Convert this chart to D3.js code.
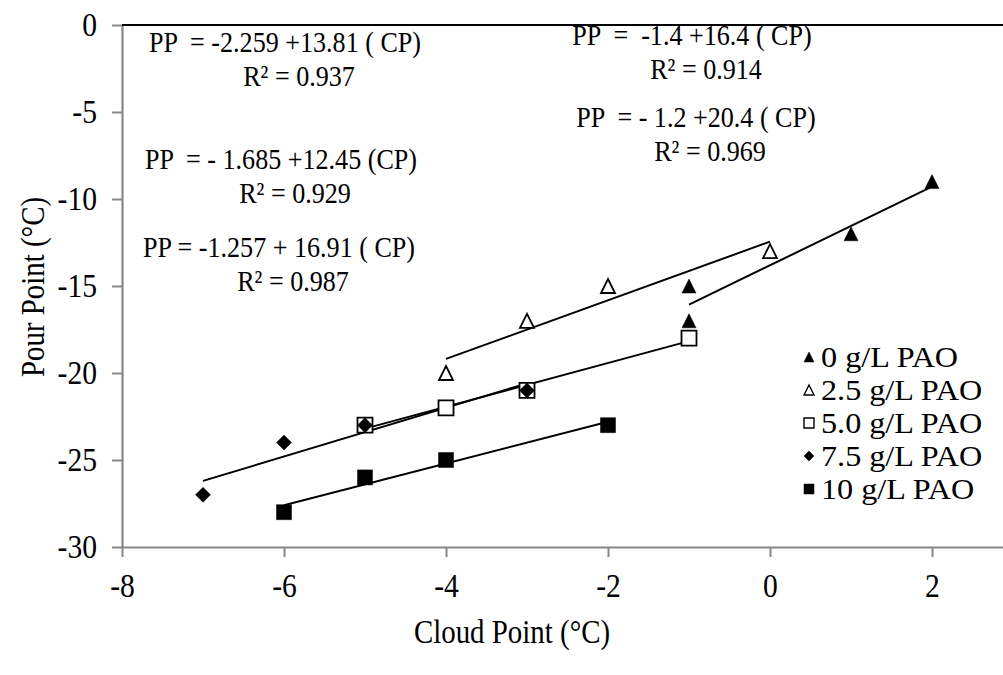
<!DOCTYPE html>
<html>
<head>
<meta charset="utf-8">
<script src="https://cdn.jsdelivr.net/npm/d3@7"></script>
<style>
  body { margin: 0; background: #fff; }
  text { font-family: "Liberation Serif", "Times New Roman", serif; fill: #000; white-space: pre; }
</style>
</head>
<body>
<svg id="chart" width="1003" height="675"></svg>
<script>
// Cloud point (CP) vs pour point (PP) for each PAO dose
const seriesNames = ["0 g/L PAO", "2.5 g/L PAO", "5.0 g/L PAO", "7.5 g/L PAO", "10 g/L PAO"];
const cp0  = [-1, -1, 1, 2];
const pp0  = [-17, -15, -12, -9];
const cp25 = [-4, -3, -2, 0];
const pp25 = [-20, -17, -15, -13];
const cp50 = [-5, -4, -3, -1];
const pp50 = [-23, -22, -21, -18];
const cp75 = [-7, -6, -5, -3];
const pp75 = [-27, -24, -23, -21];
const cp10 = [-6, -5, -4, -2];
const pp10 = [-28, -26, -25, -23];

// Linear fits PP = intercept + slope * CP
const fitSlopes     = [2.259, 1.685, 1.257, 1.4, 1.2];
const fitIntercepts = [-13.81, -12.45, -16.91, -16.4, -20.4];

// Equation annotations as printed
const eqLines = [
  ["PP  = -2.259 +13.81 ( CP)", "R² = 0.937"],
  ["PP  = - 1.685 +12.45 (CP)", "R² = 0.929"],
  ["PP = -1.257 + 16.91 ( CP)", "R² = 0.987"],
  ["PP  =  -1.4 +16.4 ( CP)", "R² = 0.914"],
  ["PP  = - 1.2 +20.4 ( CP)", "R² = 0.969"]
];

const xTicks = [-8, -6, -4, -2, 0, 2];
const yTicks = [0, -5, -10, -15, -20, -25, -30];

const cpData = [cp0, cp25, cp50, cp75, cp10];
const ppData = [pp0, pp25, pp50, pp75, pp10];

const svg = d3.select("#chart");
const x = d3.scaleLinear().domain([-8, 3]).range([122, 1013]);
const y = d3.scaleLinear().domain([-30, 0]).range([547, 25]);

const axisColor = "#878787";
const fmt = d => String(d); // plain hyphen-minus labels
const FS = 34;              // serif text size; glyphs are drawn slightly condensed

// Axes
const gx = svg.append("g").attr("transform", `translate(0,${y(-30)})`)
  .call(d3.axisBottom(x).tickValues(xTicks).tickFormat(fmt).tickSize(10).tickSizeOuter(0));
gx.select(".domain").attr("stroke", axisColor).attr("stroke-width", 2.2);
gx.selectAll(".tick line").attr("stroke", axisColor).attr("stroke-width", 2);
gx.selectAll(".tick text")
  .attr("y", null).attr("dy", null)
  .attr("transform", "translate(0,50) scale(0.87,1)")
  .attr("font-size", FS)
  .style("font-family", '"Liberation Serif", serif').attr("fill", "#000");

const gy = svg.append("g").attr("transform", `translate(${x(-8)},0)`)
  .call(d3.axisLeft(y).tickValues(yTicks).tickFormat(fmt).tickSize(10).tickSizeOuter(0));
gy.select(".domain").attr("stroke", axisColor).attr("stroke-width", 2.2);
gy.selectAll(".tick line").attr("stroke", axisColor).attr("stroke-width", 2);
gy.selectAll(".tick text")
  .attr("x", null)
  .attr("transform", "translate(-25,0) scale(0.87,1)")
  .attr("font-size", FS)
  .style("font-family", '"Liberation Serif", serif').attr("fill", "#000");

// Top frame line
svg.append("line")
  .attr("x1", x(-8)).attr("x2", 1003).attr("y1", y(0)).attr("y2", y(0))
  .attr("stroke", "#000").attr("stroke-width", 2);

// Axis titles
svg.append("text").attr("transform", "translate(512,643) scale(0.85,1)").attr("text-anchor", "middle")
  .attr("font-size", FS).text("Cloud Point (°C)");
svg.append("text").attr("transform", "translate(44,287) rotate(-90) scale(0.85,1)").attr("text-anchor", "middle")
  .attr("font-size", FS).text("Pour Point (°C)");

// Marker shapes
function markerPath(kind, s) {
  const h = s / 2;
  if (kind === "tri") return `M0,${-h}L${h},${h}L${-h},${h}Z`;
  if (kind === "sq") return `M${-h},${-h}H${h}V${h}H${-h}Z`;
  if (kind === "dia") return `M0,${-h}L${h},0L0,${h}L${-h},0Z`;
}
const markerKinds = ["tri", "tri", "sq", "dia", "sq"];
const markerFill  = ["#000", "#fff", "#fff", "#000", "#000"];
const markerSize  = [14, 14, 15, 15, 15];

// Trend lines
cpData.forEach((cps, i) => {
  const x0 = d3.min(cps), x1 = d3.max(cps);
  svg.append("line")
    .attr("x1", x(x0)).attr("y1", y(fitIntercepts[i] + fitSlopes[i] * x0))
    .attr("x2", x(x1)).attr("y2", y(fitIntercepts[i] + fitSlopes[i] * x1))
    .attr("stroke", "#000").attr("stroke-width", 2);
});

// Points
cpData.forEach((cps, i) => {
  svg.append("g").selectAll("path").data(cps.map((c, j) => [c, ppData[i][j]]))
    .join("path")
    .attr("transform", d => `translate(${x(d[0])},${y(d[1])})`)
    .attr("d", markerPath(markerKinds[i], markerSize[i]))
    .attr("fill", markerFill[i])
    .attr("stroke", "#000")
    .attr("stroke-width", markerFill[i] === "#fff" ? 1.8 : 0.5);
});

// Equation annotations: [x, first line y, second line y]
const eqPos = [[285, 42, 76], [281, 159, 193], [279, 247, 281], [692, 35, 69], [696, 117, 151]];
eqLines.forEach((lines, i) => {
  const [cx, y1, y2] = eqPos[i];
  svg.append("text").attr("transform", `translate(${cx},${y1}) scale(0.885,1)`)
    .attr("dy", "0.35em").attr("text-anchor", "middle").attr("font-size", 29.5).text(lines[0]);
  svg.append("text").attr("transform", `translate(${cx + 14},${y2}) scale(0.885,1)`)
    .attr("dy", "0.35em").attr("text-anchor", "middle").attr("font-size", 29.5).text(lines[1]);
});

// Legend
const legend = svg.append("g");
seriesNames.forEach((name, i) => {
  const ly = 357 + i * 33;
  legend.append("path")
    .attr("transform", `translate(809,${ly})`)
    .attr("d", markerPath(markerKinds[i], 10))
    .attr("fill", markerFill[i]).attr("stroke", "#000")
    .attr("stroke-width", markerFill[i] === "#fff" ? 1.4 : 0.5);
  legend.append("text").attr("transform", `translate(821,${ly}) scale(1.13,1)`).attr("dy", "0.34em")
    .attr("font-size", 28.5).text(name);
});
</script>
</body>
</html>
